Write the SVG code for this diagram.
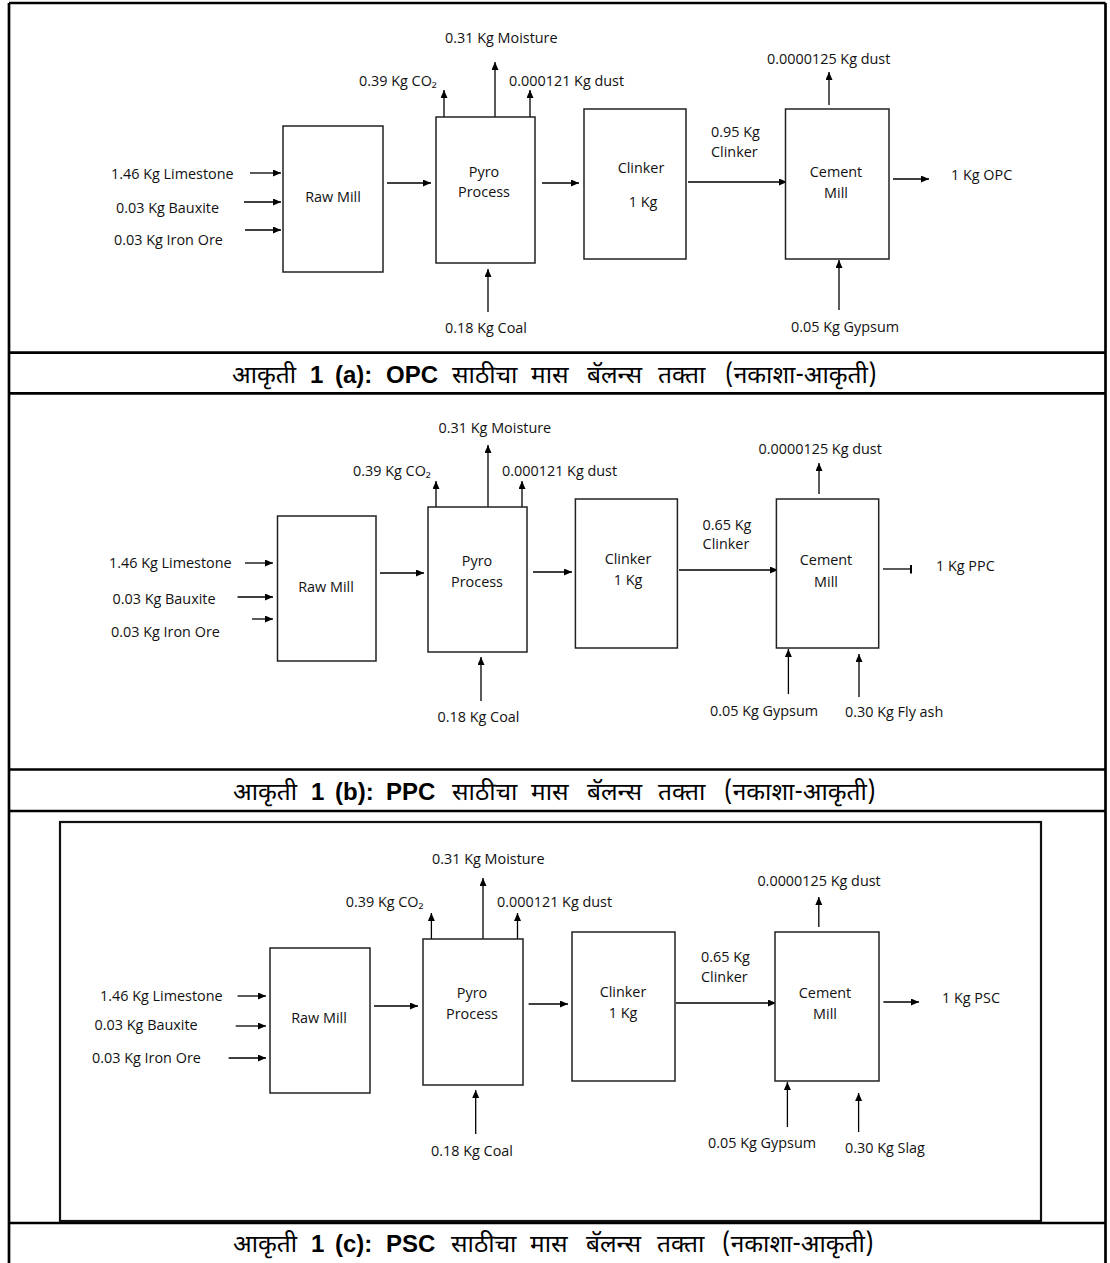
<svg xmlns="http://www.w3.org/2000/svg" width="1110" height="1263" viewBox="0 0 1110 1263">
<style>
.bg{fill:#fff}
.tbl{stroke:#000;stroke-width:2.7;fill:none}
.frame{stroke:#111;stroke-width:2.2;fill:none}
.box{fill:#fff;stroke:#222;stroke-width:1.5}
.ln{stroke:#000;stroke-width:1.3;fill:none}
.arr{marker-end:url(#ah)}
.tick{marker-end:url(#tk)}
.t{font-family:"Open Sans","Noto Sans","DejaVu Sans",sans-serif;font-size:14.4px;fill:#111}
.c{text-anchor:middle}
.cap{font-family:"Noto Sans Devanagari","Lohit Devanagari","Mangal","Noto Sans",sans-serif;font-size:24.5px;fill:#000}
.b{font-family:"Liberation Sans",Arial,sans-serif;font-weight:bold;font-size:24px}
</style>
<defs>
<marker id="ah" markerUnits="userSpaceOnUse" markerWidth="9" markerHeight="8" refX="8" refY="3.5" orient="auto">
<path d="M0,0 L8,3.5 L0,7 z" fill="#000"/>
</marker>
<marker id="tk" markerUnits="userSpaceOnUse" markerWidth="3" markerHeight="9" refX="1" refY="4.5" orient="auto">
<rect x="0" y="0" width="2" height="9" fill="#000"/>
</marker>
</defs>
<rect class="bg" x="0" y="0" width="1110" height="1263"/>

<g id="table">
<path class="tbl" d="M9,3 H1105.5 M9,3 V1263 M1105.5,3 V1263 M9,352.7 H1105.5 M9,393.3 H1105.5 M9,769.5 H1105.5 M9,811 H1105.5 M9,1223 H1105.5"/>
<rect class="frame" x="60" y="822" width="981" height="399"/>
</g>

<g id="captions">
<text id="cap-a" class="cap" y="383"><tspan x="232">आकृती</tspan><tspan class="b" x="310">1</tspan><tspan class="b" x="335">(a):</tspan><tspan class="b" x="386">OPC</tspan><tspan x="452">साठीचा</tspan><tspan x="531">मास</tspan><tspan x="587">बॅलन्स</tspan><tspan x="658">तक्ता</tspan><tspan x="725">(नकाशा-आकृती)</tspan></text>
<text id="cap-b" class="cap" y="800"><tspan x="233">आकृती</tspan><tspan class="b" x="311">1</tspan><tspan class="b" x="335">(b):</tspan><tspan class="b" x="386">PPC</tspan><tspan x="452">साठीचा</tspan><tspan x="531">मास</tspan><tspan x="587">बॅलन्स</tspan><tspan x="658">तक्ता</tspan><tspan x="724">(नकाशा-आकृती)</tspan></text>
<text id="cap-c" class="cap" y="1252"><tspan x="233">आकृती</tspan><tspan class="b" x="311">1</tspan><tspan class="b" x="335">(c):</tspan><tspan class="b" x="386">PSC</tspan><tspan x="451">साठीचा</tspan><tspan x="530">मास</tspan><tspan x="586">बॅलन्स</tspan><tspan x="657">तक्ता</tspan><tspan x="722">(नकाशा-आकृती)</tspan></text>
</g>

<!-- ===== (a) OPC ===== -->
<g id="a-connectors">
<path class="ln arr" d="M250,173 H281"/>
<path class="ln arr" d="M244,202 H281"/>
<path class="ln arr" d="M245,230 H281"/>
<path class="ln arr" d="M387,183 H431"/>
<path class="ln arr" d="M444,117 V90"/>
<path class="ln arr" d="M495,117 V62"/>
<path class="ln arr" d="M530,117 V90"/>
<path class="ln arr" d="M488,312 V269"/>
<path class="ln arr" d="M542,183 H579"/>
<path class="ln arr" d="M688,182 H787"/>
<path class="ln arr" d="M829,105 V72"/>
<path class="ln arr" d="M893,179 H929"/>
<path class="ln arr" d="M839,310 V260"/>
</g>
<g id="a-rawmill"><rect class="box" x="283" y="126" width="100" height="146"/><text class="t c" x="333" y="202">Raw Mill</text></g>
<g id="a-pyro"><rect class="box" x="436" y="117" width="99" height="146"/><text class="t c" x="484" y="177">Pyro</text><text class="t c" x="484" y="197">Process</text></g>
<g id="a-clinker"><rect class="box" x="584" y="109" width="102" height="150"/><text class="t c" x="641" y="173">Clinker</text><text class="t c" x="643" y="207">1 Kg</text></g>
<g id="a-cement"><rect class="box" x="785.5" y="109" width="103.5" height="150"/><text class="t c" x="836" y="177">Cement</text><text class="t c" x="836" y="198">Mill</text></g>
<g id="a-labels">
<text class="t" x="111" y="179">1.46 Kg Limestone</text>
<text class="t" x="116" y="213">0.03 Kg Bauxite</text>
<text class="t" x="114" y="245">0.03 Kg Iron Ore</text>
<text class="t" x="359" y="86">0.39 Kg CO₂</text>
<text class="t" x="445" y="43">0.31 Kg Moisture</text>
<text class="t" x="509" y="86">0.000121 Kg dust</text>
<text class="t" x="445" y="333">0.18 Kg Coal</text>
<text class="t" x="711" y="137">0.95 Kg</text>
<text class="t" x="711" y="157">Clinker</text>
<text class="t" x="767" y="64">0.0000125 Kg dust</text>
<text class="t" x="951" y="180">1 Kg OPC</text>
<text class="t" x="791" y="332">0.05 Kg Gypsum</text>
</g>

<!-- ===== (b) PPC ===== -->
<g id="b-connectors">
<path class="ln arr" d="M245,563 H273"/>
<path class="ln arr" d="M237.5,597 H273"/>
<path class="ln arr" d="M252,619 H273"/>
<path class="ln arr" d="M380,573 H424"/>
<path class="ln arr" d="M436,507 V481"/>
<path class="ln arr" d="M488,507 V445"/>
<path class="ln arr" d="M522,507 V481"/>
<path class="ln arr" d="M481,701 V657"/>
<path class="ln arr" d="M533,572 H572"/>
<path class="ln arr" d="M679,570 H778"/>
<path class="ln arr" d="M819,494 V463"/>
<path class="ln tick" d="M883,569 H911"/>
<path class="ln arr" d="M788.4,694 V649"/>
<path class="ln arr" d="M859,697 V654"/>
</g>
<g id="b-rawmill"><rect class="box" x="277.5" y="516" width="98.5" height="145"/><text class="t c" x="326" y="592">Raw Mill</text></g>
<g id="b-pyro"><rect class="box" x="428" y="507" width="99" height="145"/><text class="t c" x="477" y="566">Pyro</text><text class="t c" x="477" y="587">Process</text></g>
<g id="b-clinker"><rect class="box" x="575.4" y="499" width="102" height="149"/><text class="t c" x="628" y="564">Clinker</text><text class="t c" x="628" y="585">1 Kg</text></g>
<g id="b-cement"><rect class="box" x="776.4" y="499" width="102.3" height="149"/><text class="t c" x="826" y="565">Cement</text><text class="t c" x="826" y="587">Mill</text></g>
<g id="b-labels">
<text class="t" x="109" y="568">1.46 Kg Limestone</text>
<text class="t" x="112.5" y="604">0.03 Kg Bauxite</text>
<text class="t" x="111" y="637">0.03 Kg Iron Ore</text>
<text class="t" x="353" y="476">0.39 Kg CO₂</text>
<text class="t" x="438.6" y="433">0.31 Kg Moisture</text>
<text class="t" x="502" y="476">0.000121 Kg dust</text>
<text class="t" x="437.5" y="722">0.18 Kg Coal</text>
<text class="t" x="702.6" y="530">0.65 Kg</text>
<text class="t" x="702.6" y="549">Clinker</text>
<text class="t" x="758.5" y="454">0.0000125 Kg dust</text>
<text class="t" x="936" y="571">1 Kg PPC</text>
<text class="t" x="710" y="716">0.05 Kg Gypsum</text>
<text class="t" x="845" y="717">0.30 Kg Fly ash</text>
</g>

<!-- ===== (c) PSC ===== -->
<g id="c-connectors">
<path class="ln arr" d="M237.5,996 H266"/>
<path class="ln arr" d="M235.7,1026 H266"/>
<path class="ln arr" d="M228.6,1058 H266"/>
<path class="ln arr" d="M374,1006 H418"/>
<path class="ln arr" d="M431.4,939 V913"/>
<path class="ln arr" d="M483,939 V878"/>
<path class="ln arr" d="M517.5,939 V913"/>
<path class="ln arr" d="M475.7,1134 V1090"/>
<path class="ln arr" d="M528.6,1004 H568"/>
<path class="ln arr" d="M676,1003 H776"/>
<path class="ln arr" d="M818.8,927 V897"/>
<path class="ln arr" d="M883.4,1002 H919"/>
<path class="ln arr" d="M787.4,1127 V1082"/>
<path class="ln arr" d="M858.6,1132 V1093"/>
</g>
<g id="c-rawmill"><rect class="box" x="270" y="948" width="100" height="145"/><text class="t c" x="319" y="1023">Raw Mill</text></g>
<g id="c-pyro"><rect class="box" x="423" y="939" width="100" height="146"/><text class="t c" x="472" y="998">Pyro</text><text class="t c" x="472" y="1019">Process</text></g>
<g id="c-clinker"><rect class="box" x="572" y="932" width="103" height="149"/><text class="t c" x="623" y="997">Clinker</text><text class="t c" x="623" y="1018">1 Kg</text></g>
<g id="c-cement"><rect class="box" x="775" y="932" width="104" height="149"/><text class="t c" x="825" y="998">Cement</text><text class="t c" x="825" y="1019">Mill</text></g>
<g id="c-labels">
<text class="t" x="100" y="1001">1.46 Kg Limestone</text>
<text class="t" x="94.6" y="1030">0.03 Kg Bauxite</text>
<text class="t" x="92" y="1063">0.03 Kg Iron Ore</text>
<text class="t" x="345.7" y="907">0.39 Kg CO₂</text>
<text class="t" x="432" y="864">0.31 Kg Moisture</text>
<text class="t" x="497" y="907">0.000121 Kg dust</text>
<text class="t" x="431" y="1156">0.18 Kg Coal</text>
<text class="t" x="701" y="962">0.65 Kg</text>
<text class="t" x="701" y="982">Clinker</text>
<text class="t" x="757.4" y="886">0.0000125 Kg dust</text>
<text class="t" x="942" y="1003">1 Kg PSC</text>
<text class="t" x="708" y="1148">0.05 Kg Gypsum</text>
<text class="t" x="845" y="1153">0.30 Kg Slag</text>
</g>
</svg>
